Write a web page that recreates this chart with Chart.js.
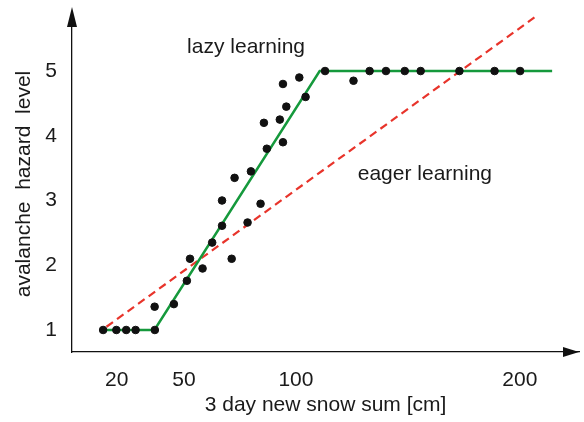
<!DOCTYPE html>
<html lang="en">
<head>
<meta charset="utf-8" />
<title>Lazy vs eager learning</title>
<style>
  * { margin: 0; padding: 0; }
  body { background: #fff; }
  .chartBox { width: 584px; height: 422px; }
</style>
</head>
<body>
<div class="chartBox"><canvas id="myChart"></canvas></div>
<script src="https://cdn.jsdelivr.net/npm/chart.js"></script>
<script>
// observations: 3 day new snow sum [cm] -> avalanche hazard level
const snowSum = [13.9, 19.8, 24.2, 28.4, 37.0, 36.9, 45.5, 51.3, 52.7, 58.3, 62.6, 67.0, 67.0, 71.3,
  72.6, 78.4, 79.9, 84.2, 85.7, 87.0, 92.8, 94.2, 94.2, 95.7, 101.5, 104.3, 113.0, 125.7, 132.9,
  140.2, 148.6, 155.7, 173.0, 188.7, 200.1];
const hazard = [1, 1, 1, 1, 1, 1.36, 1.4, 1.76, 2.1, 1.95, 2.35, 2.61, 3.0, 2.1,
  3.35, 2.66, 3.45, 2.95, 4.2, 3.8, 4.25, 3.9, 4.8, 4.45, 4.9, 4.6, 5, 4.85, 5,
  5, 5, 5, 5, 5, 5];

// lazy learning model (green)
const lazyX = [13.3, 36.8, 110.6, 214.4];
const lazyY = [1, 1, 5, 5];

// eager learning model (red dashed)
const eagerX = [15.4, 207.4];
const eagerY = [1.05, 5.85];

const xTicks = [20, 50, 100, 200];
const yTicks = [1, 2, 3, 4, 5];

const notes = ["lazy learning", "eager learning"];
const noteX = [51.4, 127.6];
const noteY = [5.28, 3.32];

const FONT = "'Liberation Sans', Arial, sans-serif";
Chart.defaults.font.family = FONT;
Chart.defaults.color = "#1a1a1a";

const toPoints = (xs, ys) => xs.map((v, i) => ({ x: v, y: ys[i] }));

// axis arrows + text notes
const arrowsAndNotes = {
  id: "arrowsAndNotes",
  afterDraw(chart) {
    const { ctx, chartArea: { left, right, top, bottom }, scales: { x, y } } = chart;
    ctx.save();
    ctx.fillStyle = "#111";
    // y arrow
    ctx.beginPath();
    ctx.moveTo(left, top - 9);
    ctx.lineTo(left - 5, top + 11);
    ctx.lineTo(left + 5, top + 11);
    ctx.closePath();
    ctx.fill();
    // x arrow
    ctx.beginPath();
    ctx.moveTo(right, bottom);
    ctx.lineTo(right - 16, bottom - 5);
    ctx.lineTo(right - 16, bottom + 5);
    ctx.closePath();
    ctx.fill();

    ctx.fillStyle = "#1a1a1a";
    ctx.font = "21px " + FONT;
    ctx.textBaseline = "alphabetic";
    notes.forEach((t, i) => {
      ctx.fillText(t, x.getPixelForValue(noteX[i]), y.getPixelForValue(noteY[i]));
    });
    ctx.restore();
  },
};

const data = {
  datasets: [
    {
      label: "observations",
      data: toPoints(snowSum, hazard),
      backgroundColor: "#111",
      borderColor: "#111",
      pointRadius: 3.8,
      order: 0,
    },
    {
      label: "lazy learning",
      data: toPoints(lazyX, lazyY),
      showLine: true,
      borderColor: "#15993c",
      borderWidth: 2.5,
      pointRadius: 0,
      order: 1,
    },
    {
      label: "eager learning",
      data: toPoints(eagerX, eagerY),
      showLine: true,
      borderColor: "#e8342b",
      borderWidth: 2.2,
      borderDash: [8, 5],
      pointRadius: 0,
      order: 2,
    },
  ],
};

const config = {
  type: "scatter",
  data: data,
  options: {
    responsive: true,
    maintainAspectRatio: false,
    animation: false,
    layout: { padding: { top: 16, right: 1, left: 0, bottom: 0 } },
    plugins: { legend: { display: false }, tooltip: { enabled: false } },
    scales: {
      x: {
        type: "linear",
        min: 0,
        max: 226.4,
        grid: { display: false, drawTicks: false },
        border: { display: true, color: "#111", width: 1.3 },
        ticks: { font: { size: 21 }, padding: 16, autoSkip: false, maxRotation: 0 },
        afterBuildTicks: (s) => { s.ticks = xTicks.map((v) => ({ value: v })); },
        afterFit: (s) => {
          s.height = 70;
          s.paddingLeft = 0;
          s.paddingRight = 0;
        },
        title: {
          display: true,
          text: "3 day new snow sum [cm]",
          font: { size: 21 },
          padding: { top: 0, bottom: 4 },
        },
      },
      y: {
        type: "linear",
        min: 0.66,
        max: 5.85,
        grid: { display: false, drawTicks: false },
        border: { display: true, color: "#111", width: 1.3 },
        ticks: { font: { size: 21 }, padding: 15 },
        afterBuildTicks: (s) => { s.ticks = yTicks.map((v) => ({ value: v })); },
        afterFit: (s) => {
          s.width = 72;
          s.paddingTop = 0;
          s.paddingBottom = 0;
        },
        title: {
          display: true,
          text: "avalanche  hazard  level",
          font: { size: 21 },
          padding: { top: 12, bottom: 0 },
        },
      },
    },
  },
  plugins: [arrowsAndNotes],
};

const ctx = document.getElementById("myChart");
const myChart = new Chart(ctx, config);
</script>
</body>
</html>
